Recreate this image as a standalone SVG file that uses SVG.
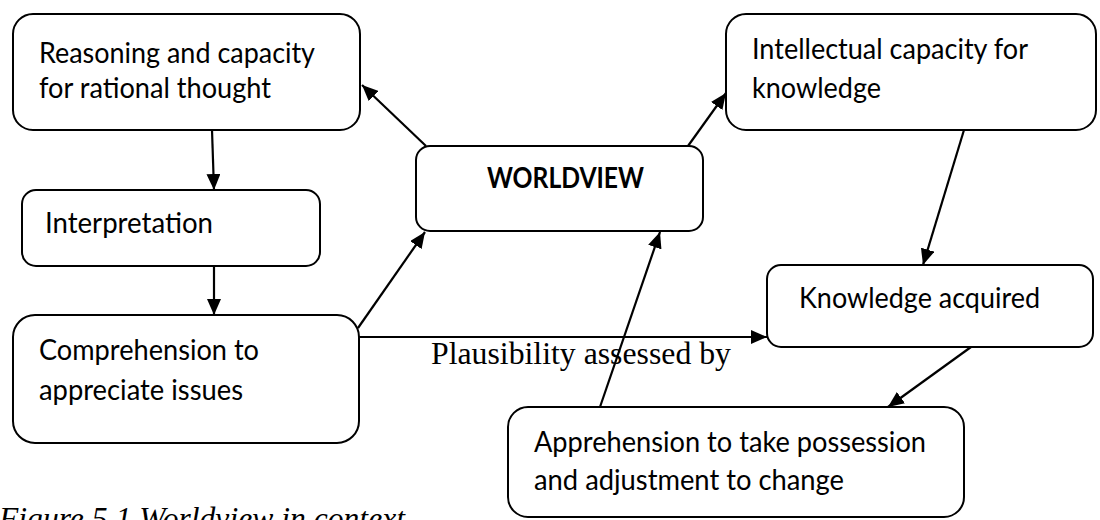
<svg xmlns="http://www.w3.org/2000/svg" width="1100" height="520" viewBox="0 0 1100 520">
<style>
.box{fill:#fff;stroke:#000;stroke-width:2}
.t{font-family:Lato,"Open Sans","Liberation Sans",sans-serif;font-size:28px;fill:#000}
.b{font-weight:bold}
.edge{stroke:#000;stroke-width:2.2;fill:none;marker-end:url(#ah)}
.serif{font-family:"Liberation Serif","Times New Roman",serif;font-size:31px;fill:#000}
</style>
<defs>
<marker id="ah" markerUnits="userSpaceOnUse" markerWidth="16" markerHeight="14" refX="16" refY="7" orient="auto">
<path d="M0,0 L16,7 L0,14 Z" fill="#000"/>
</marker>
</defs>
<rect width="1100" height="520" fill="#fff"/>
<g id="connectors">
<line class="edge" x1="426" y1="146" x2="362" y2="85"/>
<line class="edge" x1="212" y1="130" x2="214" y2="190"/>
<line class="edge" x1="214" y1="266" x2="214" y2="315"/>
<line class="edge" x1="358" y1="328" x2="425" y2="232"/>
<line class="edge" x1="359" y1="337" x2="767" y2="337"/>
<line class="edge" x1="688" y1="146" x2="726" y2="93"/>
<line class="edge" x1="964" y1="130" x2="923" y2="265"/>
<line class="edge" x1="971" y1="347" x2="888" y2="407"/>
<line class="edge" x1="600" y1="407" x2="660" y2="232"/>
</g>
<g id="reasoning">
<rect class="box" x="13" y="14" width="347" height="116" rx="20"/>
<text class="t" x="39" y="63" textLength="276" lengthAdjust="spacingAndGlyphs">Reasoning and capacity</text>
<text class="t" x="39" y="98" textLength="232" lengthAdjust="spacingAndGlyphs">for rational thought</text>
</g>
<g id="interpretation">
<rect class="box" x="22" y="190" width="298" height="76" rx="14"/>
<text class="t" x="45" y="233" textLength="168" lengthAdjust="spacingAndGlyphs">Interpretation</text>
</g>
<g id="comprehension">
<rect class="box" x="13" y="315" width="346" height="128" rx="22"/>
<text class="t" x="39" y="360" textLength="220" lengthAdjust="spacingAndGlyphs">Comprehension to</text>
<text class="t" x="39" y="400" textLength="204" lengthAdjust="spacingAndGlyphs">appreciate issues</text>
</g>
<g id="worldview">
<rect class="box" x="416" y="146" width="287" height="85" rx="14"/>
<text class="t b" x="487" y="188" textLength="157" lengthAdjust="spacingAndGlyphs">WORLDVIEW</text>
</g>
<g id="intellectual">
<rect class="box" x="726" y="14" width="370" height="116" rx="20"/>
<text class="t" x="752" y="59" textLength="276" lengthAdjust="spacingAndGlyphs">Intellectual capacity for</text>
<text class="t" x="752" y="98" textLength="129" lengthAdjust="spacingAndGlyphs">knowledge</text>
</g>
<g id="knowledge">
<rect class="box" x="767" y="265" width="326" height="82" rx="14"/>
<text class="t" x="799" y="308" textLength="241" lengthAdjust="spacingAndGlyphs">Knowledge acquired</text>
</g>
<g id="apprehension">
<rect class="box" x="508" y="407" width="456" height="110" rx="20"/>
<text class="t" x="534" y="452" textLength="392" lengthAdjust="spacingAndGlyphs">Apprehension to take possession</text>
<text class="t" x="534" y="490" textLength="310" lengthAdjust="spacingAndGlyphs">and adjustment to change</text>
</g>
<text class="serif" x="431" y="364" textLength="300" lengthAdjust="spacingAndGlyphs">Plausibility assessed by</text>
<text class="serif" x="-1" y="529" font-style="italic" textLength="406" lengthAdjust="spacingAndGlyphs">Figure 5.1 Worldview in context</text>
</svg>
